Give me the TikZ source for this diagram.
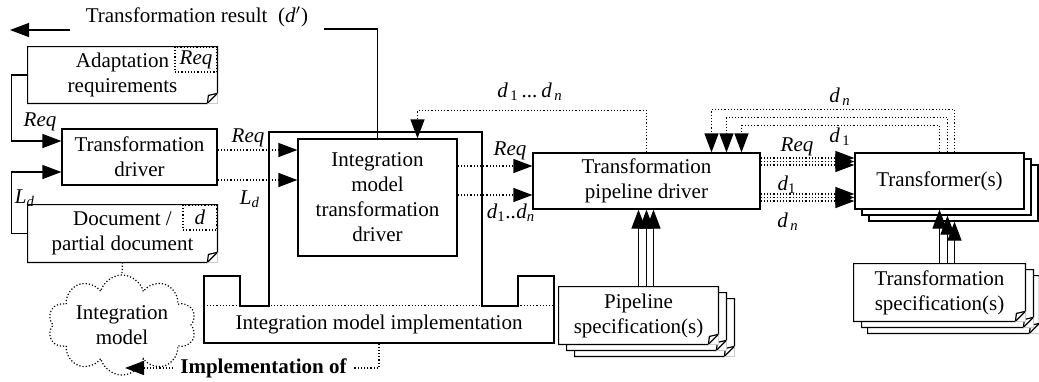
\documentclass[tikz,border=0pt]{standalone}
\usepackage{fontspec}
\setmainfont{Liberation Serif}
\usetikzlibrary{calc}
\usetikzlibrary{arrows.meta, shapes.symbols}
\tikzstyle{box} = [draw, fill=white, align=center, inner sep=0pt, line width=0.6pt]
\tikzstyle{page} = [fill=white, align=center, inner sep=0pt]
\tikzstyle{dots} = [line width=0.6pt, dash pattern=on 0.6pt off 1pt]
\tikzstyle{arrow} = [line width=0.6pt, -{Triangle[length=9.5pt,width=7pt]}]
\tikzstyle{darrow} = [dots, -{Triangle[length=9.5pt,width=7pt]}]
\tikzstyle{lbl} = [inner sep=0pt, font=\fontsize{10.5}{12.5}\selectfont\itshape]
\def\fold(#1){
\draw[line width=0.6pt] (#1.north west) -- (#1.north east) -- ($(#1.south east)+(0,-10)$) -- ($(#1.south east)+(-10,0)$) -- (#1.south west) -- cycle;
\draw[gray!40] ($(#1.south east)+(0,-10)$) -- (#1.south east) -- ($(#1.south east)+(-10,0)$);
\draw[line width=0.6pt] ($(#1.south east)+(-10,0)$) -- ($(#1.south east)+(-9,-8)$) -- ($(#1.south east)+(0,-10)$);
}
\begin{document}
\begin{tikzpicture}[x=0.5pt,y=-0.5pt,every node/.style={font=\fontsize{10.5}{12.5}\selectfont}]
\useasboundingbox (0,0) rectangle (1039,381);
% result of the whole thing
\node (res) at (197,17) {Transformation result~ (\textit{d}$'$)};
\coordinate (resa) at (70,30);
\coordinate (resb) at (10,30);
\coordinate (resc) at (324,29);
% input documents
\node[page, minimum width=94.5pt, minimum height=28pt] (ar) at (122.5,75) {Adaptation\\requirements};
\node[dots, draw, minimum width=21pt, minimum height=12.5pt, inner sep=0pt] (arq) at (196,59.5) {\textit{Req}};
\fold(ar)
\node[box, minimum width=77.5pt, minimum height=28pt] (td) at (139.5,157) {Transformation\\driver};
\node[page, minimum width=94.5pt, minimum height=28.5pt] (doc) at (122.5,233.5) {Document /\\partial document};
\node[dots, draw, minimum width=17pt, minimum height=12.5pt, inner sep=0pt] (docd) at (200,217.5) {\textit{d}};
\fold(doc)
\node[cloud, draw, dots, cloud puffs=10, minimum width=74pt, minimum height=50pt, inner sep=0pt] (im) at (122,325) {};
\node[align=center] (imt) at (im.center) {Integration\\model};
% integration model implementation
\node[minimum width=175pt, minimum height=18.5pt, inner sep=0pt] (imi) at (379,324.5) {Integration model implementation};
\draw[line width=0.6pt] (204,276) -- (240,276) -- (240,306) -- (269,306) -- (269,132) -- (482,132) -- (482,306) -- (518,306) -- (518,276) -- (554,276) -- (554,343) -- (204,343) -- cycle;
\draw[dots] (imi.north west) -- (imi.north east);
\node[box, minimum width=79.5pt, minimum height=58.5pt] (imtd) at (377.5,197.5) {Integration\\model\\transformation\\driver};
\node[box, minimum width=113.5pt, minimum height=28pt] (tpd) at (646.5,181) {Transformation\\pipeline driver};
% transformers
\node[box, minimum width=84.5pt, minimum height=28pt] (trf3) at (953.5,193) {};
\node[box, minimum width=84.5pt, minimum height=28pt] (trf2) at (946.5,187) {};
\node[box, minimum width=84.5pt, minimum height=28pt] (trf) at (939.5,181) {Transformer(s)};
% specifications
\node[page, minimum width=79.5pt, minimum height=28.5pt] (ps3) at (654.5,327.5) {};
\fold(ps3)
\node[page, minimum width=79.5pt, minimum height=28.5pt] (ps2) at (646.5,321.5) {};
\fold(ps2)
\node[page, minimum width=79.5pt, minimum height=28.5pt] (ps) at (638.5,315.5) {Pipeline\\specification(s)};
\fold(ps)
\node[page, minimum width=85.5pt, minimum height=28.5pt] (ts3) at (953.5,304.5) {};
\fold(ts3)
\node[page, minimum width=85.5pt, minimum height=28.5pt] (ts2) at (947.5,298.5) {};
\fold(ts2)
\node[page, minimum width=85.5pt, minimum height=28.5pt] (ts) at (939.5,292.5) {Transformation\\specification(s)};
\fold(ts)
% connectors
\draw[arrow] (ar.west) -- ++(-16,0) |- ($(td.west)+(0,-16)$);
\draw[arrow] (doc.west) -- ++(-16,0) |- ($(td.west)+(0,15)$);
\draw[arrow] (resa) -- (resb);
\draw[line width=0.6pt] (imtd.north) |- (resc);
\draw[darrow] ($(td.east)+(0,-7)$) -- ($(imtd.west)+(0,-47.5)$);
\draw[darrow] ($(td.east)+(0,23)$) -- ($(imtd.west)+(0,-17.5)$);
\draw[darrow] ($(imtd.east)+(0,-31.5)$) -- ($(tpd.west)+(0,-15)$);
\draw[darrow] ($(imtd.east)+(0,-2.5)$) -- ($(tpd.west)+(0,14)$);
\draw[darrow] (tpd.north) |- ($(imtd.north)+(40,-28)$) -- ($(imtd.north)+(40,0)$);
\foreach \k in {-23,-19.5,-16,13,16.5,20}
  \draw[darrow] ($(tpd.east)+(0,\k)$) -- ($(trf.west)+(0,\k)$);
\foreach \a/\b/\h in {0/95/-27, 8/80/-35, 15/65/-43}
  \draw[darrow] ($(trf.north)+(\a,0)$) -- ++(0,\h) -| ($(tpd.north)+(\b,0)$);
\foreach \a/\b in {-8/0, 0/8, 7/15}
  \draw[arrow] ($(ps.north)+(\b,0)$) -- ($(tpd.south)+(\a,0)$);
\foreach \a/\t in {0/0, 8/6, 15/12}
  \draw[arrow] ($(ts.north)+(\a,0)$) -- ($(trf.south)+(\a,\t)$);
\draw[dots] (doc.south) -- (im.north);
\node[font=\fontsize{10.5}{12.5}\selectfont\bfseries] (impl) at (263.5,368) {Implementation of};
\draw[darrow] (impl.west) -- ($(im.center)+(3,43)$);
\draw[dots] (imi.south) |- (impl.east);
% labels
\node[lbl] (lreq1) at (40,122) {Req};
\node[lbl] (lld1) at (25,198) {L\textsubscript{d}};
\node[lbl] (lreq2) at (248,138) {Req};
\node[lbl] (lld2) at (250,199) {L\textsubscript{d}};
\node[lbl] (lreq3) at (510,151) {Req};
\node[lbl] (ld1) at (511,213) {d\textsubscript{\textup{1}}..d\textsubscript{n}};
\node[lbl] (ld2) at (530,92) {d\textsubscript{\,\textup{1}}\,...\,d\textsubscript{\,n}};
\node[lbl] (ldn1) at (840,97) {d\textsubscript{\,n}};
\node[lbl] (lreq4) at (797,147) {Req};
\node[lbl] (ld3) at (840,137) {d\textsubscript{\,\textup{1}}};
\node[lbl] (ld4) at (787,185) {d\textsubscript{\textup{1}}};
\node[lbl] (ldn2) at (788,222) {d\textsubscript{\,n}};
\end{tikzpicture}
\end{document}
